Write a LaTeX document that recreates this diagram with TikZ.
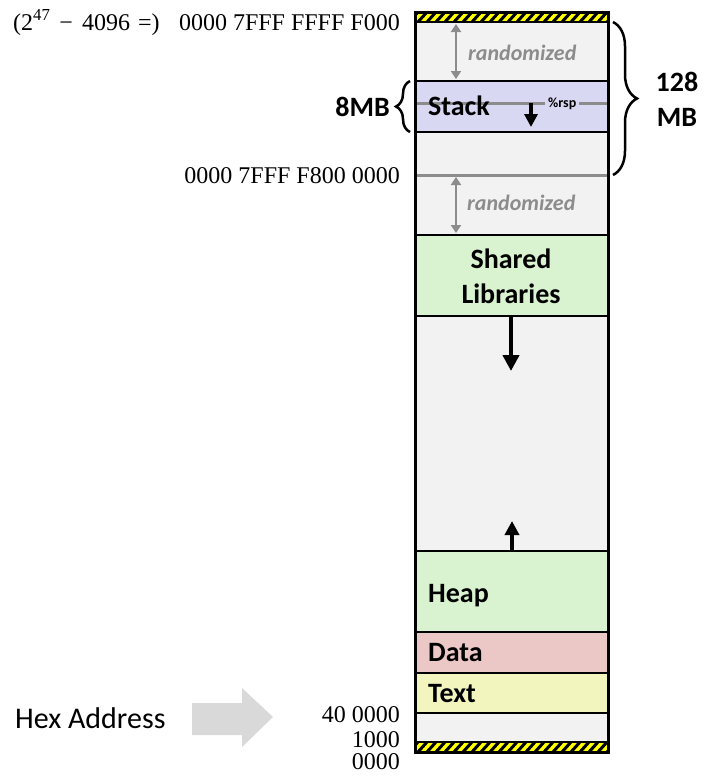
\documentclass[tikz,border=0pt]{standalone}
\usepackage{fontspec}
\usetikzlibrary{arrows.meta,decorations.pathreplacing}
\newfontfamily\labelfont{Carlito}
\newfontfamily\addrfont{Liberation Serif}
\definecolor{memgray}{HTML}{F2F2F2}
\definecolor{stackblue}{HTML}{D9D8F3}
\definecolor{libgreen}{HTML}{D9F2D0}
\definecolor{datared}{HTML}{EBC8C5}
\definecolor{textyellow}{HTML}{F2F5BE}
\definecolor{hatchyellow}{HTML}{FFFF00}
\definecolor{randgray}{HTML}{8C8C8C}
\definecolor{hexgray}{HTML}{D9D9D9}

\begin{document}
\begin{tikzpicture}[x=1pt, y=-1pt,
  lbl/.style={font=\labelfont\bfseries\fontsize{28}{35}\selectfont, inner sep=0pt},
  rndlbl/.style={font=\labelfont\bfseries\itshape\fontsize{22}{24}\selectfont, text=randgray, inner sep=0pt, anchor=base west},
  addr/.style={font=\addrfont\fontsize{24}{26}\selectfont, inner sep=0pt, anchor=base east},
  bound/.style={line width=2.5pt},
  grayline/.style={line width=3pt, draw=randgray},
  growarrow/.style={line width=4.5pt, -{Triangle[length=16pt,width=16pt]}},
  randarrow/.style={line width=2.5pt, draw=randgray, {Triangle[length=8pt,width=10pt]}-{Triangle[length=8pt,width=10pt]}},
  bracestyle/.style={decorate, line width=2.5pt}]
  \useasboundingbox (0,0) rectangle (714,780);

  % Coordinates
  \coordinate (TL) at (415,12);
  \coordinate (BR) at (608,752);
  \coordinate (R1a) at (456,24);
  \coordinate (R1b) at (456,79);
  \coordinate (R2a) at (456,177);
  \coordinate (R2b) at (456,233);
  \coordinate (SPa) at (531,103);
  \coordinate (SPb) at (531,127);
  \coordinate (LBa) at (511,317);
  \coordinate (LBb) at (511,371);
  \coordinate (HPa) at (512,551);
  \coordinate (HPb) at (512,521);

  % Segments
  \fill[memgray] (415,22) rectangle (608,742);
  \fill[stackblue] (415,81) rectangle (608,132);
  \fill[libgreen] (415,235) rectangle (608,316);
  \fill[libgreen] (415,551) rectangle (608,632);
  \fill[datared] (415,632) rectangle (608,673);
  \fill[textyellow] (415,673) rectangle (608,713);

  % Hatched ends
  \foreach \ya/\yb in {12/22, 742/752} {
    \begin{scope}
      \clip (415,\ya) rectangle (608,\yb);
      \fill[hatchyellow] (415,\ya) rectangle (608,\yb);
      \foreach \x in {400,409,...,620}
        \draw[line width=3pt] (\x,\yb) -- ++(9,\ya-\yb);
    \end{scope}
  }

  % Boundaries
  \draw[grayline] (415,103) -- (608,103);
  \draw[grayline] (415,175) -- (608,175);
  \foreach \y in {22,81,132,235,316,551,632,673,713,742}
    \draw[bound] (415,\y) -- (608,\y);
  \draw[line width=3pt] (TL) rectangle (BR);

  % Arrows
  \draw[randarrow] (R1a) -- (R1b);
  \draw[randarrow] (R2a) -- (R2b);
  \draw[line width=3.5pt, -{Triangle[length=13pt,width=13pt]}] (SPa) -- (SPb);
  \draw[growarrow] (LBa) -- (LBb);
  \draw[line width=4pt, -{Triangle[length=14pt,width=14pt]}] (HPa) -- (HPb);

  % Labels
  \node[rndlbl] (rand1) at (468,60) {randomized};
  \node[rndlbl] (rand2) at (467,210) {randomized};
  \node[lbl, anchor=base west] (stack) at (428,115) {Stack};
  \node[font=\labelfont\bfseries\fontsize{14}{16}\selectfont, fill=stackblue,
        inner xsep=3pt, inner ysep=1pt, anchor=base west] (rsp) at (545,107) {\%rsp};
  \node[lbl, align=center] (libs) at (511,276) {Shared\\Libraries};
  \node[lbl, anchor=base west] (heap) at (428,602) {Heap};
  \node[lbl, anchor=base west] (data) at (428,661) {Data};
  \node[lbl, anchor=base west] (text) at (428,702) {Text};

  % Braces
  \draw[bracestyle, decoration={brace, amplitude=24pt}] (613,22) -- (613,175);
  \node[lbl, align=center] (size128) at (677,99) {128\\MB};
  \draw[bracestyle, decoration={brace, amplitude=14pt}] (410,132) -- (410,81);
  \node[lbl, anchor=east] (size8) at (390,107) {8MB};

  % Addresses
  \node[font=\addrfont\fontsize{24}{26}\selectfont, inner sep=0pt, anchor=base west] (pow) at (13,30)
    {(2\textsuperscript{47}\hspace{9pt}−\hspace{9pt}4096\hspace{8pt}=)};
  \node[addr] (atop) at (400,30) {0000 7FFF FFFF F000};
  \node[addr] (amid) at (400,183) {0000 7FFF F800 0000};
  \node[addr] (atext) at (400,722) {40 0000};
  \node[addr] (a1000) at (400,747) {1000};
  \node[addr] (azero) at (400,769) {0000};

  % Hex address
  \node[font=\labelfont\fontsize{30}{32}\selectfont, inner sep=0pt, anchor=base west] (hex) at (15,728) {Hex Address};
  \fill[hexgray] (192,703) -- (242,703) -- (242,688) -- (273,717) -- (242,747)
    -- (242,735) -- (192,735) -- cycle;
\end{tikzpicture}
\end{document}
